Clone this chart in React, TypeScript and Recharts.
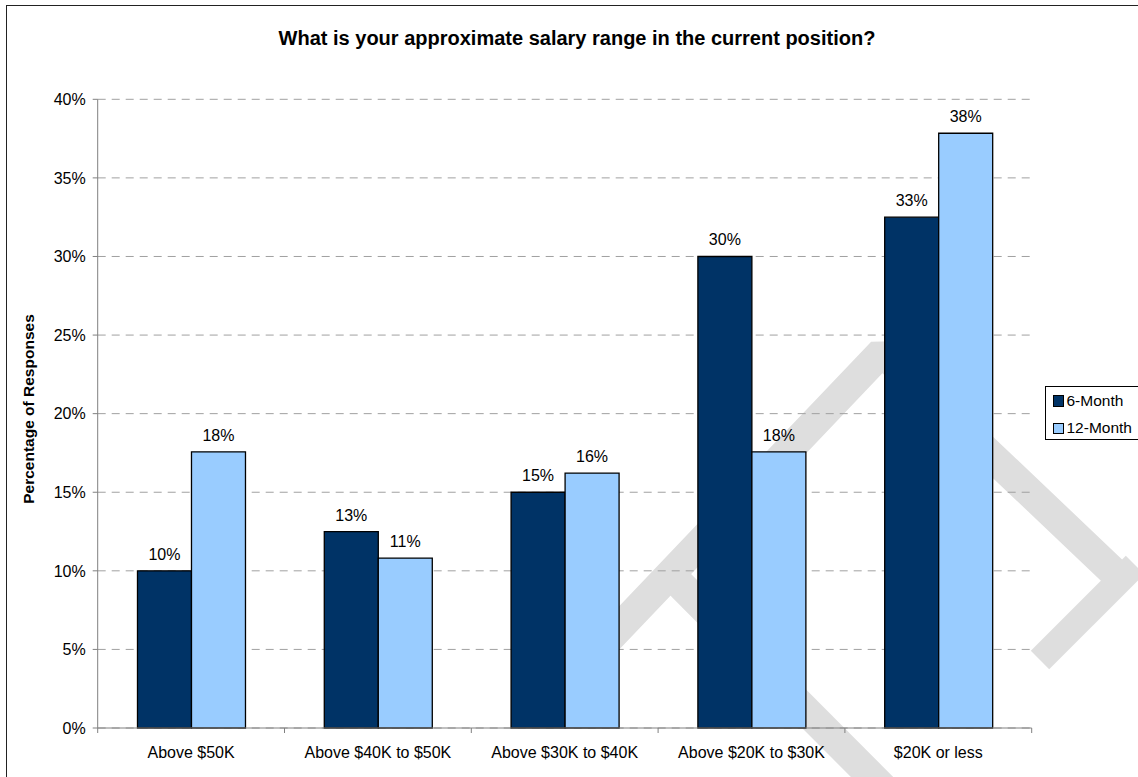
import { Bar, BarChart, CartesianGrid, LabelList, Legend, XAxis, YAxis } from "recharts";

const categories = [
  "Above $50K",
  "Above $40K to $50K",
  "Above $30K to $40K",
  "Above $20K to $30K",
  "$20K or less",
];
const sixMonth = [10, 12.5, 15, 30, 32.5];
const twelveMonth = [17.57, 10.81, 16.22, 17.57, 37.84];
const yTicks = [0, 5, 10, 15, 20, 25, 30, 35, 40];

const seriesNames = ["6-Month", "12-Month"];
const seriesColors = ["#003366", "#99CCFF"];

const data = categories.map((name, i) => ({
  name,
  [seriesNames[0]]: sixMonth[i],
  [seriesNames[1]]: twelveMonth[i],
}));

const FONT = "'Liberation Sans', Arial, sans-serif";

function CategoryTick(props: any) {
  const { x, y, payload, index, visibleTicksCount } = props;
  const half = payload?.offset ?? 0;
  const isLast = index === visibleTicksCount - 1;
  return (
    <g>
      <line x1={x - half} x2={x - half} y1={y} y2={y + 5} stroke="#808080" />
      {isLast && <line x1={x + half} x2={x + half} y1={y} y2={y + 5} stroke="#808080" />}
      <text x={x} y={y + 30} textAnchor="middle" fontSize={16} fill="#000" fontFamily={FONT}>
        {payload.value}
      </text>
    </g>
  );
}

function LegendBox(props: any) {
  const payload = [...(props.payload ?? [])].sort(
    (a: any, b: any) => seriesNames.indexOf(a.value) - seriesNames.indexOf(b.value)
  );
  return (
    <div
      style={{
        position: "relative",
        width: 100,
        height: 52,
        border: "1px solid #000",
        background: "#fff",
        fontFamily: FONT,
        fontSize: 15.5,
        color: "#000",
      }}
    >
      {payload.map((entry: any, i: number) => (
        <div key={entry.value} style={{ position: "absolute", left: 7, top: 8 + i * 27.3, height: 12, display: "flex", alignItems: "center" }}>
          <span
            style={{
              display: "inline-block",
              width: 8.5,
              height: 9.5,
              background: entry.color,
              border: "1px solid #000",
              marginRight: 3,
            }}
          />
          <span style={{ lineHeight: "12px" }}>{entry.value}</span>
        </div>
      ))}
    </div>
  );
}

export default function App() {
  return (
    <div style={{ position: "absolute", left: 0, top: 0, width: 1138, height: 777, background: "#fff", overflow: "hidden" }}>
      {/* faint watermark behind the chart */}
      <svg width={1138} height={777} style={{ position: "absolute", left: 0, top: 0 }}>
        <g stroke="#dedede" strokeWidth={30} fill="none" strokeLinecap="butt">
          <polyline points="560,690 882,352 1122,580" strokeLinejoin="bevel" />
          <line x1={1040} y1={660} x2={1135} y2={565} strokeWidth={26} />
          <line x1={668} y1={572} x2={885} y2={790} />
        </g>
      </svg>
      <div style={{ position: "absolute", left: 0, top: 0 }}>
        <BarChart
          width={1138}
          height={777}
          data={data}
          margin={{ top: 99.3, right: 106.3, bottom: 0, left: 0 }}
          barCategoryGap="21.3%"
          barGap={0}
          style={{ fontFamily: FONT }}
        >
          <CartesianGrid vertical={false} stroke="#a0a0a0" strokeDasharray="8 6" />
          <XAxis
            dataKey="name"
            height={49}
            axisLine={{ stroke: "#808080" }}
            tickLine={false}
            tickSize={0}
            tickMargin={0}
            interval={0}
            tick={<CategoryTick />}
          />
          <YAxis
            width={97.7}
            domain={[0, 40]}
            ticks={yTicks}
            interval={0}
            tickFormatter={(v) => `${v}%`}
            axisLine={{ stroke: "#808080" }}
            tickLine={{ stroke: "#808080" }}
            tickSize={5}
            tickMargin={7}
            tick={{ fill: "#000", fontSize: 16, fontFamily: FONT }}
          />
          <Legend
            layout="horizontal"
            align="center"
            verticalAlign="middle"
            wrapperStyle={{ left: 1045, top: 386, width: 110, height: 54 }}
            content={<LegendBox />}
          />
          {seriesNames.map((s, i) => (
            <Bar
              key={s}
              dataKey={s}
              fill={seriesColors[i]}
              stroke="#000"
              strokeWidth={1.3}
              isAnimationActive={false}
            >
              <LabelList
                dataKey={s}
                position="top"
                offset={11}
                fontSize={16}
                fill="#000"
                fontFamily={FONT}
                formatter={(v: any) => `${Math.round(Number(v))}%`}
              />
            </Bar>
          ))}
        </BarChart>
      </div>
      <svg width={1138} height={777} style={{ position: "absolute", left: 0, top: 0, pointerEvents: "none" }}>
        <rect x={6.5} y={5.5} width={1140} height={780} fill="none" stroke="#222" strokeWidth={1} />
        <text x={577} y={45} textAnchor="middle" fontSize={20} fontWeight="bold" fill="#000" fontFamily={FONT}>
          What is your approximate salary range in the current position?
        </text>
        <text
          x={34.3}
          y={409}
          transform="rotate(-90 34.3 409)"
          textAnchor="middle"
          fontSize={15.5}
          fontWeight="bold"
          fill="#000"
          fontFamily={FONT}
        >
          Percentage of Responses
        </text>
      </svg>
    </div>
  );
}
